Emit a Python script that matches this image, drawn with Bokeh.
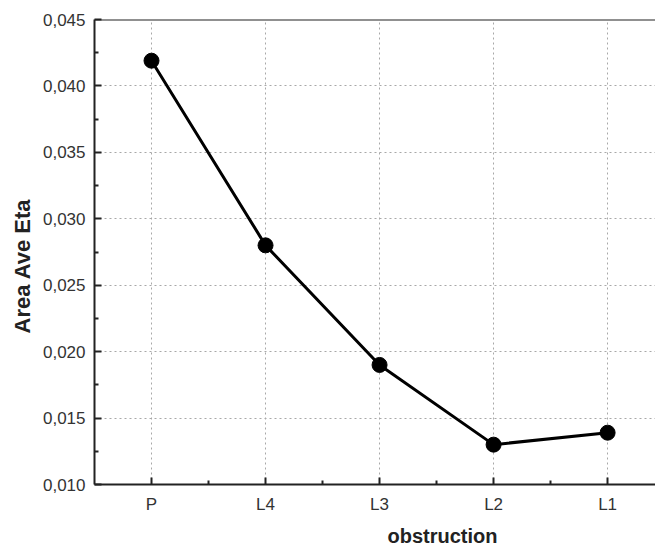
from bokeh.plotting import figure
from bokeh.models import FixedTicker, CustomJSTickFormatter, Span, Range1d, Title
from bokeh.embed import file_html
from bokeh.resources import INLINE

categories = ["P", "L4", "L3", "L2", "L1"]
area_ave_eta = [0.0419, 0.0280, 0.0190, 0.0130, 0.0139]
y_ticks = [0.010, 0.015, 0.020, 0.025, 0.030, 0.035, 0.040, 0.045]
y_minor = [0.0125, 0.0175, 0.0225, 0.0275, 0.0325, 0.0375, 0.0425]

xs = list(range(len(categories)))

p = figure(width=655, height=552, output_backend="svg", toolbar_location=None,
           x_range=Range1d(-0.5, 4.42), y_range=Range1d(0.010, 0.045),
           min_border_left=94, min_border_top=19, min_border_bottom=68, min_border_right=0)
p.outline_line_color = None
p.background_fill_color = "white"
p.border_fill_color = "white"

for g in (p.xgrid, p.ygrid):
    g.grid_line_color = "#a8a8a8"
    g.grid_line_dash = "2 3"
    g.grid_line_width = 1

p.xaxis.ticker = FixedTicker(ticks=xs, minor_ticks=[0.5, 1.5, 2.5, 3.5])
p.xaxis.major_label_overrides = {i: c for i, c in enumerate(categories)}
p.yaxis.ticker = FixedTicker(ticks=y_ticks, minor_ticks=y_minor)
p.yaxis.formatter = CustomJSTickFormatter(code="return tick.toFixed(3).replace('.', ',');")

for ax in (p.xaxis, p.yaxis):
    ax.axis_line_color = "#222222"
    ax.axis_line_width = 2
    ax.major_tick_in = 7
    ax.major_tick_out = 0
    ax.minor_tick_in = 4
    ax.minor_tick_out = 0
    ax.major_tick_line_color = "#222222"
    ax.major_tick_line_width = 2
    ax.minor_tick_line_color = "#222222"
    ax.minor_tick_line_width = 2
    ax.major_label_text_font = "Liberation Sans"
    ax.major_label_text_font_size = "17px"
    ax.major_label_text_color = "#333333"
p.xaxis.major_label_standoff = 10
p.yaxis.major_label_standoff = 9

top = Span(location=0.045, dimension="width", line_color="#222222", line_width=2)
p.add_layout(top)

p.line(xs, area_ave_eta, line_color="black", line_width=3)
p.scatter(xs, area_ave_eta, size=15, fill_color="black", line_color="black")

xtitle = Title(text="obstruction", align="left", offset=293, standoff=12,
               text_font="Liberation Sans", text_font_style="bold",
               text_font_size="20px", text_color="#222222")
ytitle = Title(text="Area Ave Eta", align="left", offset=151, standoff=9,
               text_font="Liberation Sans", text_font_style="bold",
               text_font_size="22px", text_color="#222222")
p.add_layout(xtitle, "below")
p.add_layout(ytitle, "left")

open("out.html", "w").write(file_html(p, INLINE))
